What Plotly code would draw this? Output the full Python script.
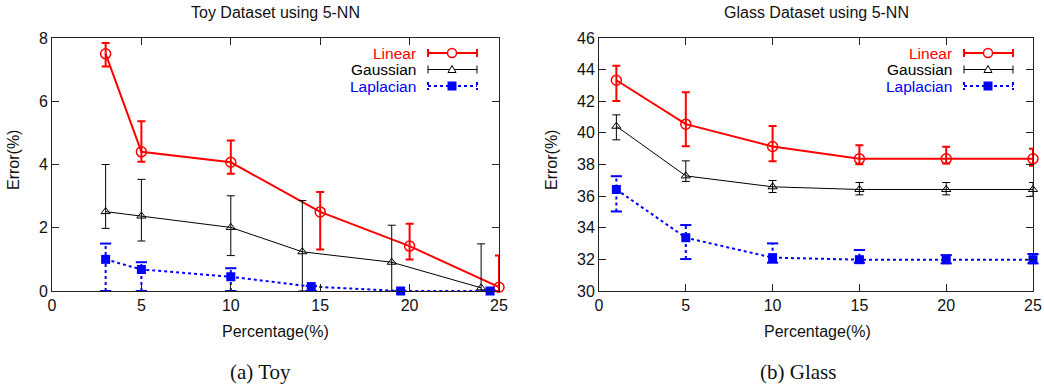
import plotly.graph_objects as go

# ---------------- data ----------------
toy_lin_x = [3, 5, 10, 15, 20, 25]
toy_lin_y = [7.5, 4.4, 4.07, 2.5, 1.42, 0.12]
toy_lin_hi = [7.84, 5.37, 4.76, 3.13, 2.13, 1.12]
toy_lin_lo = [7.1, 4.09, 3.71, 1.31, 1.0, 0.0]

toy_gau_x = [3, 5, 10, 14, 19, 24]
toy_gau_y = [2.51, 2.37, 2.01, 1.24, 0.91, 0.1]
toy_gau_hi = [4.0, 3.53, 3.01, 2.86, 2.08, 1.49]
toy_gau_lo = [1.98, 1.58, 1.12, 0.0, 0.0, 0.0]

toy_lap_x = [3, 5, 10, 14.5, 19.5, 24.5]
toy_lap_y = [1.0, 0.68, 0.45, 0.14, 0.0, 0.0]
toy_lap_hi = [1.5, 0.91, 0.72, 0.16, 0.0, 0.0]
toy_lap_lo = [0.0, 0.0, 0.0, 0.0, 0.0, 0.0]

glass_x = [1, 5, 10, 15, 20, 25]
glass_lin_y = [43.33, 40.55, 39.14, 38.36, 38.36, 38.36]
glass_lin_hi = [44.25, 42.57, 40.44, 39.22, 39.12, 39.0]
glass_lin_lo = [42.02, 39.16, 38.21, 38.02, 38.06, 37.92]

glass_gau_y = [40.42, 37.28, 36.59, 36.42, 36.42, 36.42]
glass_gau_hi = [41.14, 38.23, 36.99, 36.86, 36.86, 36.86]
glass_gau_lo = [39.56, 36.93, 36.23, 36.08, 36.08, 36.0]

glass_lap_y = [36.42, 33.37, 32.11, 31.98, 31.98, 31.98]
glass_lap_hi = [37.26, 34.17, 33.01, 32.59, 32.27, 32.34]
glass_lap_lo = [35.03, 32.02, 31.79, 31.79, 31.75, 31.75]

series_names = ["Linear", "Gaussian", "Laplacian"]
x_ticks = [0, 5, 10, 15, 20, 25]
toy_y_ticks = [0, 2, 4, 6, 8]
glass_y_ticks = [30, 32, 34, 36, 38, 40, 42, 44, 46]
titles = ["Toy Dataset using 5-NN", "Glass Dataset using 5-NN"]
captions = ["(a) Toy", "(b) Glass"]

RED = "#ff0000"
BLACK = "#000000"
BLUE = "#0000ff"
TXT = "#111111"
SANS = "Liberation Sans, Arial, sans-serif"
SERIF = "Liberation Serif, Times New Roman, serif"
W, H = 1044, 386
ML, MR, MT, MB = 52, 11, 38, 95
PW, PH = W - ML - MR, H - MT - MB

fig = go.Figure()


def err(hi, y, lo):
    return [h - v for h, v in zip(hi, y)], [v - l for v, l in zip(y, lo)]


def add_series(x, y, hi, lo, xa, ya):
    lin, gau, lap = y
    lin_hi, gau_hi, lap_hi = hi
    lin_lo, gau_lo, lap_lo = lo
    lx, gx, px = x
    # Linear
    up, dn = err(lin_hi, lin, lin_lo)
    fig.add_trace(go.Scatter(
        x=lx, y=lin, mode="lines+markers", xaxis=xa, yaxis=ya, cliponaxis=False,
        line=dict(color=RED, width=2),
        marker=dict(symbol="circle-open", size=10, color=RED, line=dict(width=1.5, color=RED)),
        error_y=dict(type="data", symmetric=False, array=up, arrayminus=dn,
                     color=RED, thickness=2, width=4),
        showlegend=False))
    # Gaussian
    up, dn = err(gau_hi, gau, gau_lo)
    fig.add_trace(go.Scatter(
        x=gx, y=gau, mode="lines+markers", xaxis=xa, yaxis=ya, cliponaxis=False,
        line=dict(color=BLACK, width=1),
        marker=dict(symbol="triangle-up-open", size=8, color=BLACK, line=dict(width=1, color=BLACK)),
        error_y=dict(type="data", symmetric=False, array=up, arrayminus=dn,
                     color=BLACK, thickness=1, width=4),
        showlegend=False))
    # Laplacian: dotted whiskers
    wx, wy = [], []
    for xi, h, l in zip(px, lap_hi, lap_lo):
        wx += [xi, xi, None]
        wy += [l, h, None]
    fig.add_trace(go.Scatter(
        x=wx, y=wy, mode="lines", xaxis=xa, yaxis=ya, cliponaxis=False,
        line=dict(color=BLUE, width=2, dash="dot"), showlegend=False))
    fig.add_trace(go.Scatter(
        x=list(px) + list(px), y=list(lap_hi) + list(lap_lo), mode="markers",
        xaxis=xa, yaxis=ya, cliponaxis=False,
        marker=dict(symbol="line-ew", size=8, color=BLUE, line=dict(width=2, color=BLUE)),
        showlegend=False))
    fig.add_trace(go.Scatter(
        x=px, y=lap, mode="lines+markers", xaxis=xa, yaxis=ya, cliponaxis=False,
        line=dict(color=BLUE, width=2, dash="dot"),
        marker=dict(symbol="square", size=9, color=BLUE),
        showlegend=False))


add_series((toy_lin_x, toy_gau_x, toy_lap_x),
           (toy_lin_y, toy_gau_y, toy_lap_y),
           (toy_lin_hi, toy_gau_hi, toy_lap_hi),
           (toy_lin_lo, toy_gau_lo, toy_lap_lo), "x", "y")
add_series((glass_x, glass_x, glass_x),
           (glass_lin_y, glass_gau_y, glass_lap_y),
           (glass_lin_hi, glass_gau_hi, glass_lap_hi),
           (glass_lin_lo, glass_gau_lo, glass_lap_lo), "x2", "y2")


def px_x(v):
    return (v - ML) / PW


def px_y(v):
    return 1 - (v - MT) / PH


axis_common = dict(showline=True, linecolor="#222222", linewidth=1, mirror="ticks",
                   ticks="inside", ticklen=7, tickwidth=1, tickcolor="#222222",
                   showgrid=False, zeroline=False, automargin=False,
                   tickfont=dict(family=SANS, size=16, color=TXT))

ydom = [px_y(291), px_y(38)]
fig.update_layout(
    width=W, height=H,
    margin=dict(l=ML, r=MR, t=MT, b=MB, pad=0),
    paper_bgcolor="white", plot_bgcolor="white",
    showlegend=False,
    xaxis=dict(domain=[px_x(52), px_x(499)], range=[0, 25], tickvals=x_ticks, anchor="y", **axis_common),
    yaxis=dict(domain=ydom, range=[0, 8], tickvals=toy_y_ticks, anchor="x", **axis_common),
    xaxis2=dict(domain=[px_x(599), px_x(1033)], range=[0, 25], tickvals=x_ticks, anchor="y2", **axis_common),
    yaxis2=dict(domain=ydom, range=[30, 46], tickvals=glass_y_ticks, anchor="x2", **axis_common),
)

ann = []
# titles, axis titles, captions
for cx, t in zip([275, 816], titles):
    ann.append(dict(x=px_x(cx), y=px_y(13), text=t, font=dict(family=SANS, size=16, color=TXT)))
for cx in [275, 817]:
    ann.append(dict(x=px_x(cx), y=px_y(331), text="Percentage(%)", font=dict(family=SANS, size=16, color=TXT)))
for cx in [13, 551]:
    ann.append(dict(x=px_x(cx), y=px_y(160), text="Error(%)", textangle=-90,
                    font=dict(family=SANS, size=16, color=TXT)))
for cx, t in zip([260, 798], captions):
    ann.append(dict(x=px_x(cx), y=px_y(372), text=t, font=dict(family=SERIF, size=21, color=TXT)))

shapes = []
# custom gnuplot-style legends
leg_colors = [RED, BLACK, BLUE]
leg_rows = [53, 69.5, 86]
for tx, sx0, sx1, mx in [(417, 428, 477, 452), (953, 964, 1013, 988)]:
    for name, col, ry, i in zip(series_names, leg_colors, leg_rows, range(3)):
        ann.append(dict(x=px_x(tx), y=px_y(ry), text=name, xanchor="right", borderpad=0,
                        font=dict(family=SANS, size=15.5, color=col)))
        lw = [2, 1, 2][i]
        dash = [None, None, "dot"][i]
        shapes.append(dict(type="line", xref="paper", yref="paper",
                           x0=px_x(sx0), x1=px_x(sx1), y0=px_y(ry), y1=px_y(ry),
                           line=dict(color=col, width=lw, dash=dash)))
        for ex in (sx0, sx1):
            shapes.append(dict(type="line", xref="paper", yref="paper",
                               x0=px_x(ex), x1=px_x(ex), y0=px_y(ry - 4), y1=px_y(ry + 4),
                               line=dict(color=col, width=lw, dash=dash)))
        if i == 0:
            shapes.append(dict(type="circle", xref="paper", yref="paper",
                               x0=px_x(mx - 4.5), x1=px_x(mx + 4.5), y0=px_y(ry - 4.5), y1=px_y(ry + 4.5),
                               fillcolor="white", line=dict(color=RED, width=1.5)))
        elif i == 1:
            path = "M {} {} L {} {} L {} {} Z".format(
                px_x(mx - 4), px_y(ry + 3), px_x(mx + 4), px_y(ry + 3), px_x(mx), px_y(ry - 4))
            shapes.append(dict(type="path", xref="paper", yref="paper", path=path,
                               fillcolor="white", line=dict(color=BLACK, width=1)))
        else:
            shapes.append(dict(type="rect", xref="paper", yref="paper",
                               x0=px_x(mx - 4.5), x1=px_x(mx + 4.5), y0=px_y(ry - 4.5), y1=px_y(ry + 4.5),
                               fillcolor=BLUE, line=dict(color=BLUE, width=0)))

for a in ann:
    a.setdefault("xref", "paper")
    a.setdefault("yref", "paper")
    a.setdefault("showarrow", False)
    a.setdefault("xanchor", "center")
    a.setdefault("yanchor", "middle")
fig.update_layout(annotations=ann, shapes=shapes)

fig.write_html("out.html", config={"displayModeBar": False},
               post_script="document.body.style.margin='0px';")
